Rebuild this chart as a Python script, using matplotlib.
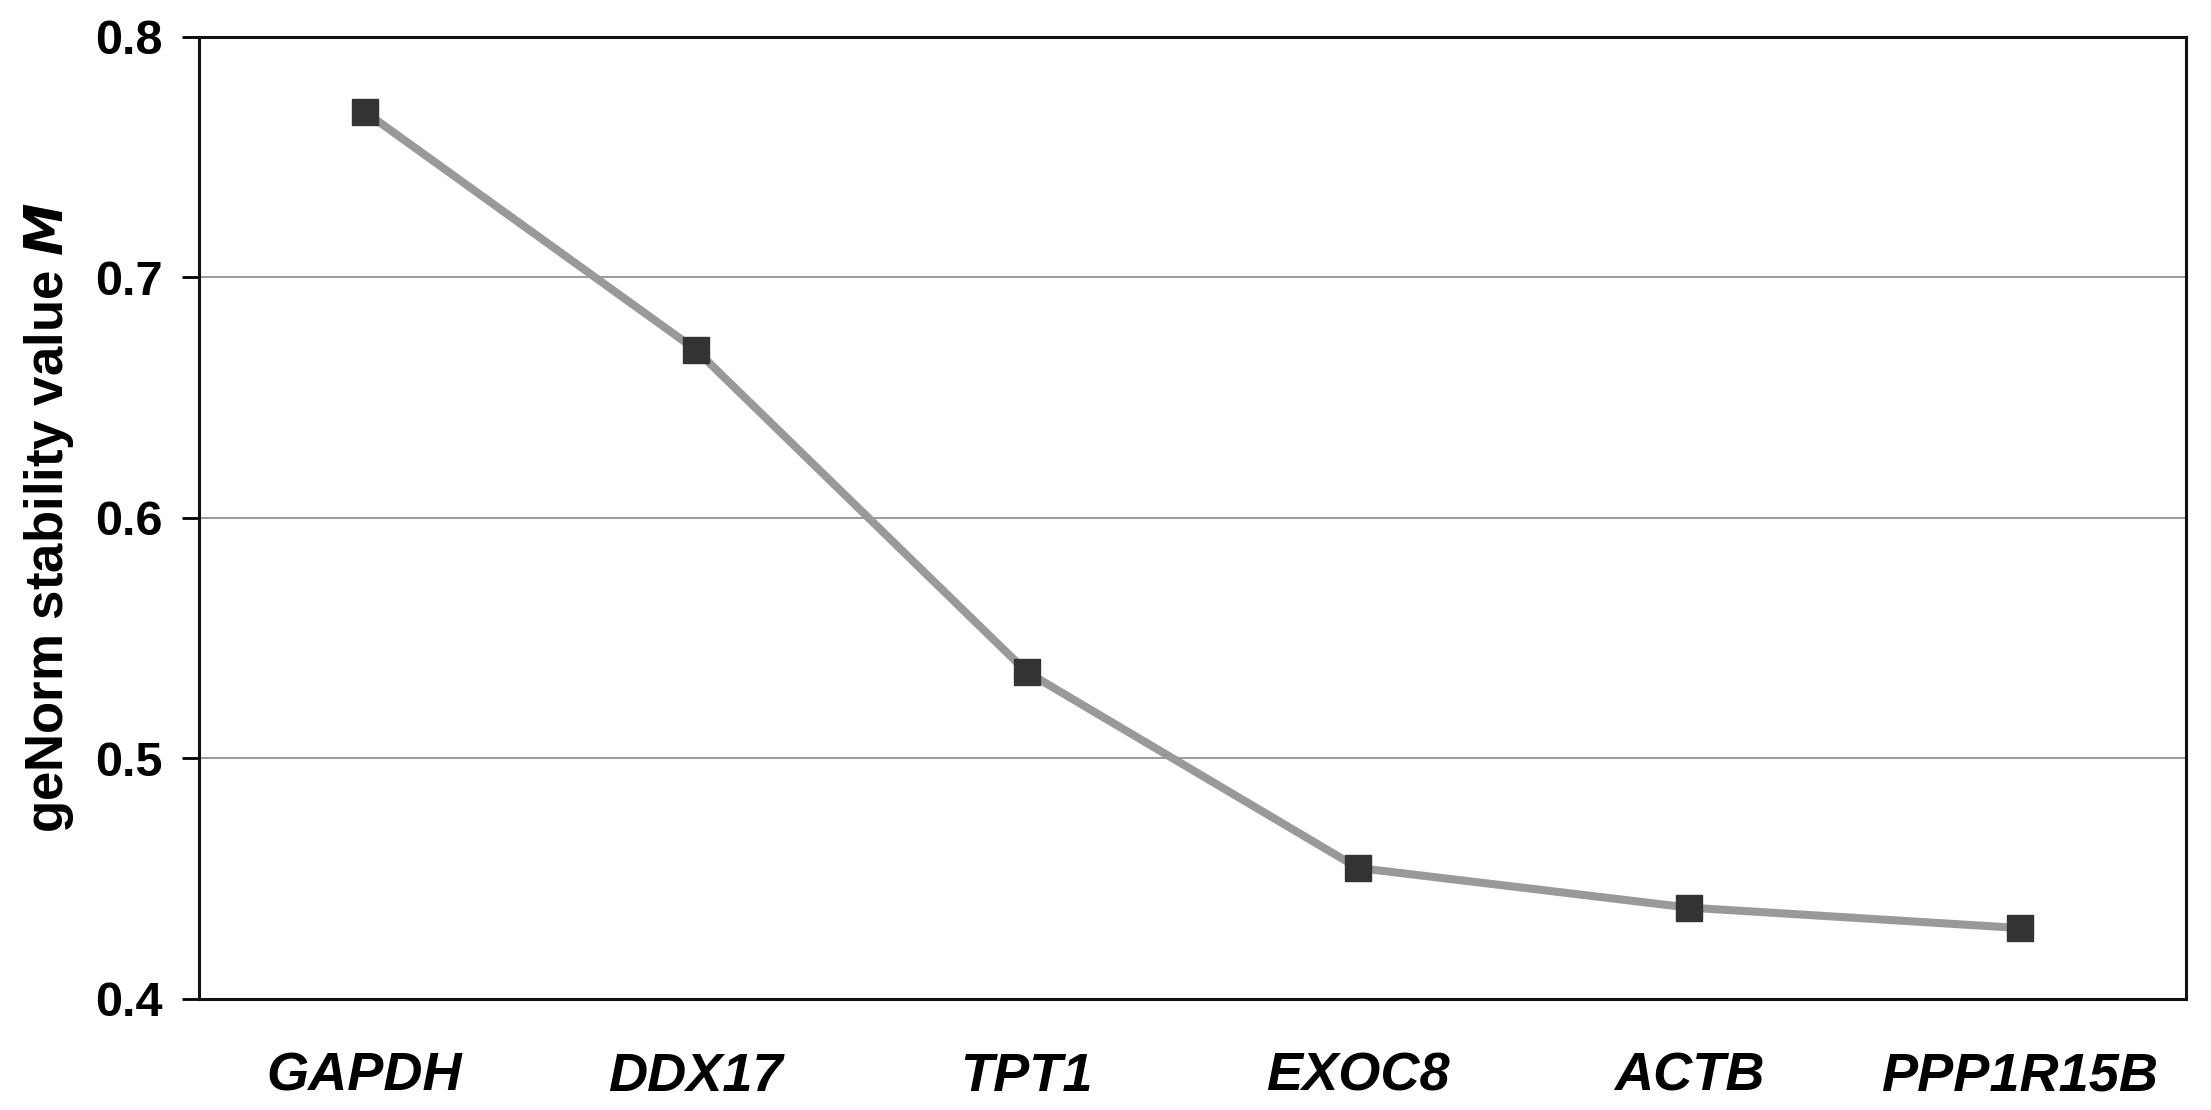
import matplotlib
matplotlib.use("Agg")
import matplotlib.pyplot as plt

# geNorm M values per reference gene
genes = ["GAPDH", "DDX17", "TPT1", "EXOC8", "ACTB", "PPP1R15B"]
m_values = [0.769, 0.670, 0.536, 0.4545, 0.438, 0.4295]
y_ticks = [0.4, 0.5, 0.6, 0.7, 0.8]

plt.rcParams["font.family"] = ["Liberation Sans", "DejaVu Sans"]
plt.rcParams["font.weight"] = "bold"

fig = plt.figure(figsize=(22.11, 11.10), dpi=100)
ax = fig.add_axes([0.09, 0.1, 0.8985, 0.8667])

x = list(range(len(genes)))
ax.plot(x, m_values, color="#999999", linewidth=5.8, marker="s",
        markersize=19, markerfacecolor="#333333", markeredgecolor="#333333",
        zorder=3)

ax.set_xlim(-0.5, len(genes) - 0.5)
ax.set_ylim(0.4, 0.8)
ax.set_yticks(y_ticks)
ax.set_yticklabels([f"{t:.1f}" for t in y_ticks], fontsize=35, fontweight="bold")
ax.set_xticks(x)
ax.set_xticklabels(genes, fontsize=39, fontweight="bold", style="italic")
ax.tick_params(axis="x", length=0, pad=38)
ax.tick_params(axis="y", length=12, width=2, direction="out", pad=14)

ax.yaxis.grid(True, color="#888888", linewidth=1.2)
ax.set_axisbelow(True)
for s in ax.spines.values():
    s.set_linewidth(2.2)
    s.set_color("#111111")

ax.set_ylabel(r"geNorm stability value $\bfit{M}$", fontsize=38,
              fontweight="bold", labelpad=14)

fig.savefig("out.png", dpi=100)
